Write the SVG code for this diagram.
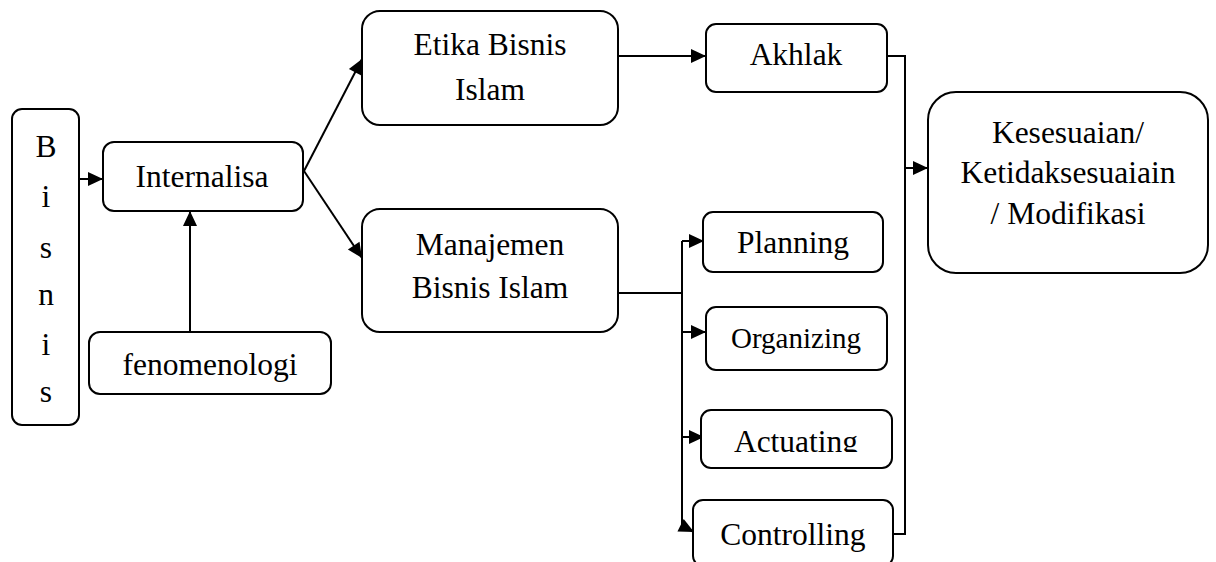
<svg xmlns="http://www.w3.org/2000/svg" width="1216" height="562" viewBox="0 0 1216 562">
<style>
.box{fill:#fff;stroke:#000;stroke-width:2}
.t{font-family:"Liberation Serif","Times New Roman",serif;font-size:31.5px;fill:#000;text-anchor:middle}
.c{fill:none;stroke:#000;stroke-width:2}
</style>
<defs>
<marker id="ah" markerUnits="userSpaceOnUse" markerWidth="18" markerHeight="18" refX="15" refY="7" orient="auto" overflow="visible">
<path d="M0,0 L15,7 L0,14 z" fill="#000"/>
</marker>
<clipPath id="actClip"><rect x="701" y="410" width="191" height="42"/></clipPath>
</defs>
<rect width="1216" height="562" fill="#fff"/>
<g id="connectors">
<path class="c" d="M79,179 L103,179" marker-end="url(#ah)"/>
<path class="c" d="M190,332 L190,211" marker-end="url(#ah)"/>
<path class="c" d="M304,171 L362,59" marker-end="url(#ah)"/>
<path class="c" d="M304,171 L362,258" marker-end="url(#ah)"/>
<path class="c" d="M618,56 L706,56" marker-end="url(#ah)"/>
<path class="c" d="M618,293 L682,293"/>
<path class="c" d="M682,241 L682,526"/>
<path class="c" d="M682,241 L704,241" marker-end="url(#ah)"/>
<path class="c" d="M682,332 L706,332" marker-end="url(#ah)"/>
<path class="c" d="M682,437 L704,437" marker-end="url(#ah)"/>
<path class="c" d="M682,526 L694,532" marker-end="url(#ah)"/>
<path class="c" d="M887,56 L905,56 L905,534 L893,534"/>
<path class="c" d="M905,168 L928,168" marker-end="url(#ah)"/>
</g>
<g id="bisnis">
<rect class="box" x="12" y="109" width="67" height="316" rx="10"/>
<text class="t" x="46" y="157">B</text>
<text class="t" x="46" y="207">i</text>
<text class="t" x="46" y="258">s</text>
<text class="t" x="46" y="305">n</text>
<text class="t" x="46" y="355">i</text>
<text class="t" x="46" y="402">s</text>
</g>
<g id="internalisa">
<rect class="box" x="103" y="142" width="200" height="69" rx="11"/>
<text class="t" x="202" y="187">Internalisa</text>
</g>
<g id="fenomenologi">
<rect class="box" x="89" y="332" width="242" height="62" rx="11"/>
<text class="t" x="210" y="375">fenomenologi</text>
</g>
<g id="etika">
<rect class="box" x="362" y="11" width="256" height="114" rx="18"/>
<text class="t" x="490" y="55">Etika Bisnis</text>
<text class="t" x="490" y="100">Islam</text>
</g>
<g id="manajemen">
<rect class="box" x="362" y="209" width="256" height="123" rx="18"/>
<text class="t" x="490" y="255">Manajemen</text>
<text class="t" x="490" y="298">Bisnis Islam</text>
</g>
<g id="akhlak">
<rect class="box" x="706" y="24" width="181" height="68" rx="10"/>
<text class="t" x="796" y="65">Akhlak</text>
</g>
<g id="planning">
<rect class="box" x="703" y="212" width="180" height="60" rx="10"/>
<text class="t" x="793" y="253">Planning</text>
</g>
<g id="organizing">
<rect class="box" x="706" y="307" width="181" height="63" rx="10"/>
<text class="t" x="796" y="348" style="font-size:29px">Organizing</text>
</g>
<g id="actuating">
<rect class="box" x="701" y="410" width="191" height="58" rx="10"/>
<text class="t" x="796" y="452" clip-path="url(#actClip)">Actuating</text>
</g>
<g id="controlling">
<rect class="box" x="693" y="500" width="200" height="66" rx="10"/>
<text class="t" x="793" y="545">Controlling</text>
</g>
<g id="kesesuaian">
<rect class="box" x="928" y="92" width="280" height="181" rx="28"/>
<text class="t" x="1068" y="143">Kesesuaian/</text>
<text class="t" x="1068" y="183">Ketidaksesuaiain</text>
<text class="t" x="1068" y="224">/ Modifikasi</text>
</g>
</svg>
